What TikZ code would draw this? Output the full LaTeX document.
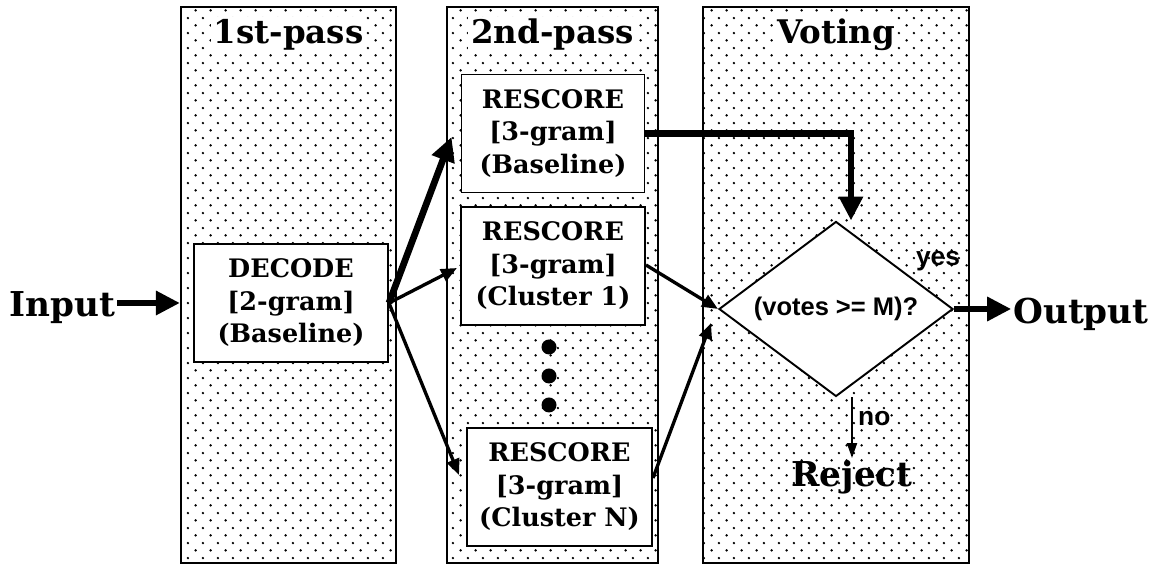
\documentclass[tikz,border=0pt]{standalone}
\usepackage{fontspec}
\setmainfont{DejaVu Serif}
\newfontfamily\votesans{Liberation Sans}
\usetikzlibrary{shapes.geometric,positioning,arrows.meta,calc,patterns}

% sparse staggered dot screen for the stage panels
\pgfdeclarepatternformonly{stagedots}{\pgfpointorigin}{\pgfqpoint{8.4pt}{8.4pt}}{\pgfqpoint{8.4pt}{8.4pt}}{%
  \pgfpathcircle{\pgfqpoint{2.1pt}{2.1pt}}{0.75pt}%
  \pgfpathcircle{\pgfqpoint{6.3pt}{6.3pt}}{0.75pt}%
  \pgfusepath{fill}}

\begin{document}
\begin{tikzpicture}[
  panel/.style={draw, line width=1.2pt, pattern=stagedots, minimum height=11.12cm, inner sep=0pt},
  title/.style={fill=white, inner sep=1.5pt, font=\bfseries\fontsize{18.5}{20}\selectfont},
  box/.style={draw, fill=white, line width=1.1pt, align=center, minimum height=2.36cm, inner sep=1pt,
              font=\bfseries\fontsize{14.5}{18.5}\selectfont},
  decision/.style={diamond, aspect=1.34, draw, fill=white, line width=1.1pt, inner sep=0pt,
                   minimum width=4.68cm, minimum height=3.5cm, font=\votesans\bfseries\fontsize{14.5}{16}\selectfont},
  io/.style={font=\bfseries\fontsize{19.5}{21}\selectfont, inner sep=1pt},
  yn/.style={font=\votesans\bfseries\fontsize{15}{17}\selectfont, inner sep=1pt},
  vdot/.style={circle, fill=black, inner sep=0pt, minimum size=0.3cm},
  heavy/.style={-{Triangle[length=4.8mm, width=4.6mm]}, line width=3.8pt},
  medium/.style={-{Triangle[length=3.2mm, width=2.6mm]}, line width=1.9pt},
  light/.style={-{Triangle[length=3mm, width=2mm]}, line width=1.1pt},
]
\useasboundingbox (0,0) rectangle (23.08,11.38);

% ====== Stage panels ======
\node[panel, minimum width=4.30cm] (p1) at (5.77,5.68) {};
\node[panel, minimum width=4.22cm] (p2) at (11.05,5.68) {};
\node[panel, minimum width=5.32cm] (p3) at (16.72,5.68) {};
\node[title] (t1) at ($(p1.north)+(0,-0.58)$) {1st-pass};
\node[title] (t2) at ($(p2.north)+(0,-0.58)$) {2nd-pass};
\node[title] (t3) at ($(p3.north)+(0,-0.58)$) {Voting};

% ====== 1st pass ======
\node[io] (input) at (1.25,5.22) {Input};
\node[box, minimum width=3.88cm] (decode) at (5.82,5.32) {DECODE\\{}[2-gram]\\(Baseline)};
\draw[heavy] (input.east |- decode.east) -- (p1.west |- decode.east);

% ====== 2nd pass ======
\node[box, minimum width=3.66cm] (base) at (11.06,8.71) {RESCORE\\{}[3-gram]\\(Baseline)};
\node[box, minimum width=3.68cm] (clus1) at (11.06,6.06) {RESCORE\\{}[3-gram]\\(Cluster 1)};
\node[box, minimum width=3.70cm] (clusN) at (11.19,1.64) {RESCORE\\{}[3-gram]\\(Cluster N)};
\foreach \y [count=\i] in {4.44,3.86,3.28}
  \node[vdot] (dot\i) at (10.98,\y) {};

\draw[heavy] (decode.east) -- ([xshift=-0.18cm, yshift=-0.07cm]base.west);
\draw[medium] (decode.east) -- ([xshift=-0.06cm, yshift=-0.04cm]clus1.west);
\draw[medium] (decode.east) -- ([xshift=-0.14cm, yshift=0.24cm]clusN.west);

% ====== Voting ======
\node[decision] (vote) at (16.72,5.2) {(votes >= M)?};
\node[io] (output) at (21.62,5.1) {Output};
\node[io] (reject) at (17.04,1.84) {Reject};
\node[yn] (yes) at (18.76,6.16) {yes};

\draw[heavy] (base.east) -| ([xshift=0.3cm]vote.north);
\draw[medium] ([yshift=0.02cm]clus1.east) -- (vote.west);
\draw[medium] ([yshift=0.18cm]clusN.east) -- ([xshift=-0.14cm, yshift=-0.28cm]vote.west);
\draw[heavy] (vote.east) -- (vote.east -| output.west);
\draw[light] (reject.north |- vote.south) -- node[yn, right=2pt, pos=0.35] (no) {no} (reject.north);

\end{tikzpicture}
\end{document}
